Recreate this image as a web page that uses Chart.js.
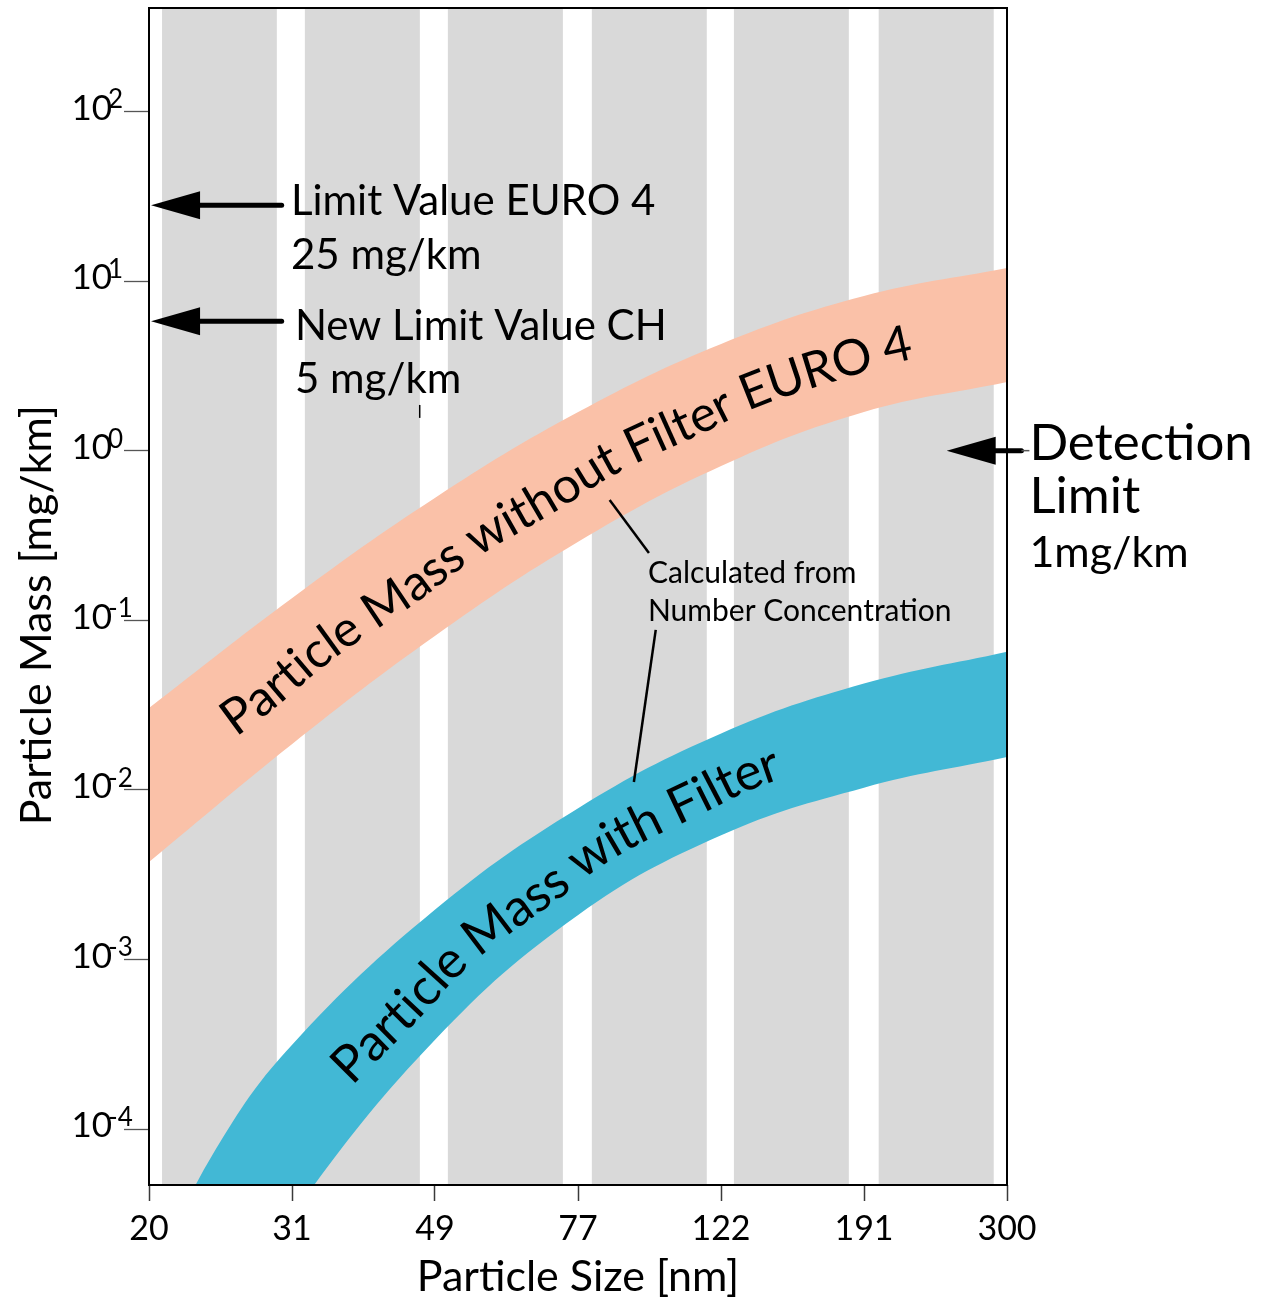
<!DOCTYPE html>
<html>
<head>
<meta charset="utf-8">
<script src="https://cdn.jsdelivr.net/npm/chart.js@4.4.1/dist/chart.umd.min.js"></script>
<style>
  html, body { margin: 0; padding: 0; background: #fff; }
  #wrap { width: 1270px; height: 1301px; }
</style>
</head>
<body>
<div id="wrap"><canvas id="chart" width="1270" height="1301"></canvas></div>
<script>
var FONT = 'Lato, "Open Sans", sans-serif';

// x axis: particle size [nm], log scale
var xMin = 20, xMax = 300;
var xTickLabels = ['20', '31', '49', '77', '122', '191', '300'];

// y axis: particle mass [mg/km], log scale, ticks at 10^e
var yMin = Math.pow(10, -4.33), yMax = Math.pow(10, 2.61);
var yTickExp = [2, 1, 0, -1, -2, -3, -4];

// pink band: particle mass without filter (EURO 4)
var sizeNoFilter = [20, 31.4, 49.3, 77.5, 121.7, 191, 300];
var noFilterHigh = [0.0304, 0.135, 0.526, 1.69, 4.26, 8.17, 11.95];
var noFilterLow  = [0.00376, 0.0186, 0.0808, 0.290, 0.812, 1.69, 2.54];

// blue band: particle mass with filter
var sizeFilter = [20, 25, 31.4, 49.3, 77.5, 121.7, 191, 300];
var filterHigh = [1.32e-5, 8.3e-5, 3.13e-4, 1.96e-3, 7.8e-3, 0.0215, 0.0423, 0.0653];
var filterLow  = [9.0e-7, 6.2e-6, 3.1e-5, 3.35e-4, 1.83e-3, 5.4e-3, 0.0103, 0.0156];

// grey stripes behind the plot (size ranges)
var stripeFrom = [20.84, 32.71, 51.37, 80.92, 126.7, 200.1];
var stripeTo   = [29.94, 47.02, 73.85, 116.3, 182.1, 287.7];

// limit arrows (tip x, value, tail x), in data units
var arrows = [
  {tip: 20.13, y: 28, tail: 30.4},
  {tip: 20.13, y: 5.8, tail: 30.4},
  {tip: 248, y: 1, tail: 314}
];

// text notes: left edge x, baseline y (data units)
var notes = [
  {text: 'Limit Value EURO 4', x: 31.3, y: 24.5, size: 42},
  {text: '25 mg/km', x: 31.3, y: 11.8, size: 42},
  {text: 'New Limit Value CH', x: 31.7, y: 4.49, size: 42},
  {text: '5 mg/km', x: 31.7, y: 2.19, size: 42},
  {text: 'Detection', x: 322, y: 0.881, size: 51},
  {text: 'Limit', x: 322, y: 0.429, size: 51},
  {text: '1mg/km', x: 322, y: 0.206, size: 43},
  {text: 'Calculated from', x: 96.6, y: 0.166, size: 30},
  {text: 'Number Concentration', x: 96.6, y: 0.099, size: 30}
];

var leaders = [
  {x1: 85.6, y1: 0.512, x2: 96.9, y2: 0.249, w: 2.5},
  {x1: 99.0, y1: 0.0877, x2: 92.4, y2: 0.01113, w: 2.5},
  {x1: 47.0, y1: 1.86, x2: 47.0, y2: 1.56, w: 1.5}
];

function pairs(xs, ys) {
  return xs.map(function (x, i) { return {x: x, y: ys[i]}; });
}

function noPad(s) {
  s.paddingTop = 0; s.paddingBottom = 0; s.paddingLeft = 0; s.paddingRight = 0;
}

function textOnBand(chart, hiIdx, loIdx, text, fromX, toX) {
  var ctx = chart.ctx, xs = chart.scales.x;
  var hi = chart.getDatasetMeta(hiIdx).dataset, lo = chart.getDatasetMeta(loIdx).dataset;
  var x0 = xs.getPixelForValue(fromX), x1 = xs.getPixelForValue(toX);
  var pts = [];
  for (var px = x0; px <= x1; px += 1) {
    var a = hi.interpolate({x: px}, 'x'), b = lo.interpolate({x: px}, 'x');
    if (a && b && !Array.isArray(a) && !Array.isArray(b)) pts.push({x: px, y: (a.y + b.y) / 2});
  }
  if (pts.length < 2) return;
  var arc = [0];
  for (var i = 1; i < pts.length; i++) {
    arc.push(arc[i - 1] + Math.hypot(pts[i].x - pts[i - 1].x, pts[i].y - pts[i - 1].y));
  }
  var total = arc[arc.length - 1];
  function at(s) {
    var j = 1;
    while (j < arc.length - 1 && arc[j] < s) j++;
    var t = (s - arc[j - 1]) / ((arc[j] - arc[j - 1]) || 1);
    return {x: pts[j - 1].x + t * (pts[j].x - pts[j - 1].x), y: pts[j - 1].y + t * (pts[j].y - pts[j - 1].y)};
  }
  ctx.save();
  ctx.font = '40px ' + FONT;
  var size = 40 * total / ctx.measureText(text).width;
  ctx.font = size + 'px ' + FONT;
  ctx.fillStyle = '#000';
  ctx.textAlign = 'center';
  ctx.textBaseline = 'alphabetic';
  for (var k = 0; k < text.length; k++) {
    var c = text[k];
    if (c === ' ') continue;
    var left = ctx.measureText(text.slice(0, k)).width;
    var s = left + ctx.measureText(c).width / 2;
    var p = at(s), pa = at(Math.max(0, s - 8)), pb = at(Math.min(total, s + 8));
    ctx.save();
    ctx.translate(p.x, p.y);
    ctx.rotate(Math.atan2(pb.y - pa.y, pb.x - pa.x));
    ctx.fillText(c, 0, size * 0.34);
    ctx.restore();
  }
  ctx.restore();
}

var decor = {
  id: 'decor',
  beforeDatasetsDraw: function (chart) {
    var ctx = chart.ctx, area = chart.chartArea, xs = chart.scales.x;
    ctx.save();
    ctx.fillStyle = '#d9d9d9';
    for (var i = 0; i < stripeFrom.length; i++) {
      var a = xs.getPixelForValue(stripeFrom[i]), b = xs.getPixelForValue(stripeTo[i]);
      ctx.fillRect(a, area.top, b - a, area.bottom - area.top);
    }
    ctx.restore();
  },
  afterDatasetsDraw: function (chart) {
    textOnBand(chart, 0, 1, 'Particle Mass without Filter EURO 4', 25.5, 222);
    textOnBand(chart, 2, 3, 'Particle Mass with Filter', 36.5, 145.6);
  },
  afterDraw: function (chart) {
    var ctx = chart.ctx, area = chart.chartArea, xs = chart.scales.x, ys = chart.scales.y;
    ctx.save();

    // frame
    ctx.strokeStyle = '#000';
    ctx.lineWidth = 2;
    ctx.strokeRect(area.left, area.top, area.right - area.left, area.bottom - area.top);

    // exponents of the y tick labels
    ctx.fillStyle = '#000';
    ctx.font = '26px ' + FONT;
    ctx.textAlign = 'left';
    ctx.textBaseline = 'alphabetic';
    var labRight = ys.right - 25 - 12;
    yTickExp.forEach(function (e) {
      var py = ys.getPixelForValue(Math.pow(10, e));
      ctx.fillText(e < 0 ? '-' + (-e) : String(e), labRight - 4, py - 3);
    });

    // y axis title
    ctx.save();
    ctx.font = '43px ' + FONT;
    ctx.textAlign = 'center';
    ctx.textBaseline = 'middle';
    ctx.translate(37, ys.getPixelForValue(0.107));
    ctx.rotate(-Math.PI / 2);
    ctx.fillText('Particle Mass [mg/km]', 0, 0);
    ctx.restore();

    // arrows
    arrows.forEach(function (a, i) {
      var tx = xs.getPixelForValue(a.tip), ex = xs.getPixelForValue(a.tail), py = ys.getPixelForValue(a.y);
      var base = tx + 49;
      ctx.fillStyle = '#000';
      ctx.beginPath();
      ctx.moveTo(tx, py);
      ctx.lineTo(base, py - 14);
      ctx.lineTo(base, py + 14);
      ctx.closePath();
      ctx.fill();
      ctx.strokeStyle = '#000';
      ctx.lineWidth = 5;
      ctx.lineCap = 'round';
      ctx.beginPath();
      ctx.moveTo(base - 2, py);
      ctx.lineTo(ex, py);
      ctx.stroke();
      if (i === 2) {
        ctx.strokeStyle = '#555';
        ctx.lineWidth = 1.5;
        ctx.lineCap = 'butt';
        ctx.beginPath();
        ctx.moveTo(ex, py);
        ctx.lineTo(xs.getPixelForValue(322), py);
        ctx.stroke();
      }
    });

    // leader lines
    ctx.strokeStyle = '#000';
    ctx.lineCap = 'butt';
    leaders.forEach(function (l) {
      ctx.lineWidth = l.w;
      ctx.beginPath();
      ctx.moveTo(xs.getPixelForValue(l.x1), ys.getPixelForValue(l.y1));
      ctx.lineTo(xs.getPixelForValue(l.x2), ys.getPixelForValue(l.y2));
      ctx.stroke();
    });

    // notes
    ctx.fillStyle = '#000';
    ctx.textAlign = 'left';
    ctx.textBaseline = 'alphabetic';
    notes.forEach(function (n) {
      ctx.font = n.size + 'px ' + FONT;
      ctx.fillText(n.text, xs.getPixelForValue(n.x), ys.getPixelForValue(n.y));
    });

    ctx.restore();
  }
};

var bandLine = {borderWidth: 0, borderColor: 'rgba(0,0,0,0)', pointRadius: 0, pointHoverRadius: 0};

new Chart(document.getElementById('chart'), {
  type: 'line',
  data: {
    datasets: [
      Object.assign({label: 'without filter, high', data: pairs(sizeNoFilter, noFilterHigh), fill: '+1', backgroundColor: '#fac1a8'}, bandLine),
      Object.assign({label: 'without filter, low', data: pairs(sizeNoFilter, noFilterLow), fill: false}, bandLine),
      Object.assign({label: 'with filter, high', data: pairs(sizeFilter, filterHigh), fill: '+1', backgroundColor: '#42b8d5'}, bandLine),
      Object.assign({label: 'with filter, low', data: pairs(sizeFilter, filterLow), fill: false}, bandLine)
    ]
  },
  options: {
    responsive: false,
    animation: false,
    devicePixelRatio: 1,
    layout: {padding: {top: 8, right: 263, bottom: 0, left: 0}},
    elements: {line: {tension: 0.4}},
    plugins: {legend: {display: false}, tooltip: {enabled: false}},
    scales: {
      x: {
        type: 'logarithmic',
        position: 'bottom',
        min: xMin,
        max: xMax,
        afterBuildTicks: function (s) {
          s.ticks = xTickLabels.map(function (l, i) {
            return {value: xMin * Math.pow(xMax / xMin, i / (xTickLabels.length - 1))};
          });
        },
        afterFit: function (s) { s.height = 116; noPad(s); },
        border: {display: false},
        grid: {display: true, drawOnChartArea: false, drawTicks: true, tickLength: 16, tickColor: '#3a3a3a', tickWidth: 1.5},
        ticks: {
          autoSkip: false, maxRotation: 0, padding: 8, color: '#000',
          font: {family: FONT, size: 34},
          callback: function (v, i) { return xTickLabels[i]; }
        },
        title: {
          display: true, text: 'Particle Size [nm]', color: '#000',
          font: {family: FONT, size: 43, lineHeight: 1}, padding: {top: 0, bottom: 2}
        }
      },
      y: {
        type: 'logarithmic',
        position: 'left',
        min: yMin,
        max: yMax,
        afterBuildTicks: function (s) {
          s.ticks = yTickExp.map(function (e) { return {value: Math.pow(10, e)}; });
        },
        afterFit: function (s) { s.width = 149; noPad(s); },
        border: {display: false},
        grid: {display: true, drawOnChartArea: false, drawTicks: true, tickLength: 25, tickColor: '#555', tickWidth: 1.3},
        ticks: {
          autoSkip: false, padding: 12, color: '#000', labelOffset: -3,
          font: {family: FONT, size: 35},
          callback: function () { return '10'; }
        }
      }
    }
  },
  plugins: [decor]
});
</script>
</body>
</html>
